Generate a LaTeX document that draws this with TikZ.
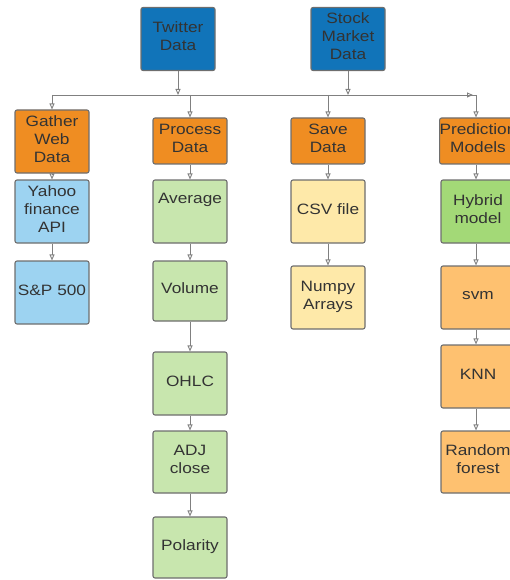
\documentclass[tikz,border=0pt]{standalone}
\usepackage{fontspec}
\setmainfont{Liberation Sans}[FakeStretch=1.15]
\usetikzlibrary{arrows.meta}
\definecolor{dblue}{HTML}{1174B9}
\definecolor{orng}{HTML}{EF8D22}
\definecolor{lblue}{HTML}{9DD3F1}
\definecolor{lgreen}{HTML}{C8E6AE}
\definecolor{lyellow}{HTML}{FEE9A9}
\definecolor{mgreen}{HTML}{A3D977}
\definecolor{lorange}{HTML}{FEC170}
\definecolor{bord}{HTML}{6E6E6E}
\definecolor{txtc}{HTML}{333333}
\definecolor{linec}{HTML}{808080}
\tikzset{
  box/.style={draw=bord, line width=1.1pt, rounded corners=2pt, minimum width=74pt, minimum height=63pt, inner sep=0pt, align=center, text=txtc, font=\fontsize{15}{18}\selectfont, execute at end node={\rule[-5pt]{0pt}{0pt}}},
  txt/.style={inner sep=0pt, align=center, text=txtc, font=\fontsize{15}{18}\selectfont},
  conn/.style={draw=linec, line width=0.9pt, -{Triangle[open, length=6pt, width=5pt]}},
  plain/.style={draw=linec, line width=0.9pt}
}
\begin{document}
\begin{tikzpicture}[x=1pt,y=-1pt]
\useasboundingbox (0,0) rectangle (510,580);
\clip (0,0) rectangle (510,580);
% top
\node[box, fill=dblue] (tw) at (178,39) {Twitter\\Data};
\node[box, fill=dblue] (sm) at (348,39) {};
\node[txt] (smT) at (348,36) {Stock\\Market\\Data};
% bus
\coordinate (bL) at (52,95);
\coordinate (bTw) at (178,95);
\coordinate (bSm) at (348,95);
\coordinate (bP) at (190,95);
\coordinate (bS) at (328,95);
\coordinate (bR) at (476,95);
\coordinate (bA) at (473,95);
% level 2
\node[box, fill=orng, minimum height=63pt] (gw) at (52,141.5) {Gather\\Web\\Data};
\node[box, fill=orng, minimum height=46pt] (pd) at (190,141) {Process\\Data};
\node[box, fill=orng, minimum height=46pt] (sd) at (328,141) {Save\\Data};
\node[box, fill=orng, minimum height=46pt] (pm) at (478,141) {Prediction\\Models};
% column 1
\node[box, fill=lblue] (ya) at (52,211.5) {Yahoo\\finance\\API};
\node[box, fill=lblue] (sp) at (52,292.5) {S\&P 500};
% column 2
\node[box, fill=lgreen] (av) at (190,211.5) {};
\node[txt] (avT) at (190,200) {Average};
\node[box, fill=lgreen, minimum height=60pt] (vo) at (190,291) {Volume};
\node[box, fill=lgreen] (oh) at (190,383.5) {OHLC};
\node[box, fill=lgreen, minimum height=62pt] (ad) at (190,462) {ADJ\\close};
\node[box, fill=lgreen, minimum height=61pt] (po) at (190,547.5) {Polarity};
% column 3
\node[box, fill=lyellow] (cs) at (328,211.5) {CSV file};
\node[box, fill=lyellow] (np) at (328,297.5) {Numpy\\Arrays};
% column 4
\node[box, fill=mgreen] (hy) at (478,211.5) {Hybrid\\model};
\node[box, fill=lorange] (sv) at (478,297.5) {svm};
\node[box, fill=lorange] (kn) at (478,376.5) {KNN};
\node[box, fill=lorange, minimum height=62pt] (rf) at (478,462) {Random\\forest};
% connectors
\draw[conn] (tw.south) -- (bTw);
\draw[conn] (sm.south) -- (bSm);
\draw[plain] (bL) -- (bR);
\draw[conn] (bL) -- (bL |- gw.north);
\draw[conn] (bP) -- (pd.north);
\draw[conn] (bS) -- (sd.north);
\draw[conn] (bL -| bA) ++(-8,0) -- (bA);
\draw[conn] (bR) -- (bR |- pm.north);
\draw[conn] (gw) -- (ya);
\draw[conn] (ya) -- (sp);
\draw[conn] (pd) -- (av);
\draw[conn] (av) -- (vo);
\draw[conn] (vo) -- (oh);
\draw[conn] (oh) -- (ad);
\draw[conn] (ad) -- (po);
\draw[conn] (sd) -- (cs);
\draw[conn] (cs) -- (np);
\draw[conn] (pm.south -| bR) -- (hy.north -| bR);
\draw[conn] (hy.south -| bR) -- (sv.north -| bR);
\draw[conn] (sv.south -| bR) -- (kn.north -| bR);
\draw[conn] (kn.south -| bR) -- (rf.north -| bR);
\end{tikzpicture}
\end{document}
